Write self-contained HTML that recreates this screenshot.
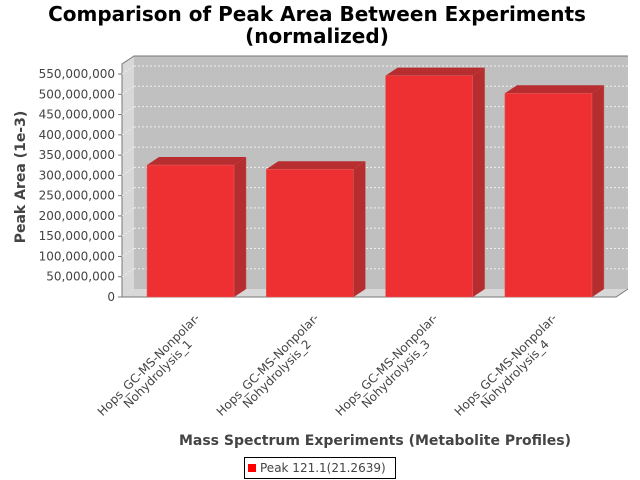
<!DOCTYPE html>
<html><head><meta charset="utf-8"><style>
body{margin:0;background:#fff;}
svg text{font-family:"DejaVu Sans","Liberation Sans",sans-serif;}
.cat{position:absolute;width:160px;text-align:center;font:12px "DejaVu Sans","Liberation Sans",sans-serif;color:#444;line-height:13px;transform-origin:right top;transform:rotate(-45deg);white-space:nowrap;}
</style></head><body>
<div style="position:relative;width:640px;height:480px;overflow:hidden">
<svg id="c" width="640" height="480" style="position:absolute;left:0;top:0">
<text x="317" y="21" text-anchor="middle" font-size="20" font-weight="bold" fill="#000">Comparison of Peak Area Between Experiments</text>
<text x="317" y="43" text-anchor="middle" font-size="20" font-weight="bold" fill="#000">(normalized)</text>
<polygon points="122,64 134,56 134,289 122,297" fill="#d8d8d8"/>
<rect x="134" y="56" width="494" height="233" fill="#c0c0c0"/>
<polygon points="122,297 134,289 628,289 616,297" fill="#d8d8d8"/>
<polyline points="122,297 122,64 134,56 628,56" fill="none" stroke="#777"/>
<polyline points="122,297 616,297 628,289" fill="none" stroke="#777"/>
<g id="grid"></g><g id="ticks"></g><g id="bars"></g>
<text transform="translate(25,177) rotate(-90)" text-anchor="middle" font-size="14" font-weight="bold" fill="#444">Peak Area (1e-3)</text>
<text x="375" y="445" text-anchor="middle" font-size="14" font-weight="bold" fill="#444">Mass Spectrum Experiments (Metabolite Profiles)</text>
<rect x="244.5" y="457.5" width="151" height="21" fill="#fff" stroke="#000"/>
<rect x="248" y="464" width="8" height="8" fill="#ff0000"/>
<text x="260" y="472" font-size="12" fill="#444">Peak 121.1(21.2639)</text>
</svg>
<div id="cats"></div>
</div>
<script>
const categories=["Hops_GC-MS-Nonpolar-\nNohydrolysis_1","Hops_GC-MS-Nonpolar-\nNohydrolysis_2","Hops_GC-MS-Nonpolar-\nNohydrolysis_3","Hops_GC-MS-Nonpolar-\nNohydrolysis_4"];
const values=[325500000,315000000,546000000,502500000];
const yTicks=[0,50000000,100000000,150000000,200000000,250000000,300000000,350000000,400000000,450000000,500000000,550000000];
const NS="http://www.w3.org/2000/svg";
const y0=297,pxPer=20.27/50000000,DX=12,DY=8;
function yS(v){return y0-v*pxPer;}
function xBand(i){return {x:147+119.3*i,w:87};}
function mk(tag,attrs,parent){const e=document.createElementNS(NS,tag);for(const k in attrs)e.setAttribute(k,attrs[k]);parent.appendChild(e);return e;}
const grid=document.getElementById('grid'),ticks=document.getElementById('ticks'),bars=document.getElementById('bars');
yTicks.forEach(v=>{
  const y=yS(v);
  if(v>0){const l=mk('line',{x1:122,y1:y,x2:134,y2:y-DY,stroke:'#eee','stroke-dasharray':'2,2'},grid);
  
  
  const g=mk('line',{x1:134,y1:y-DY,x2:628,y2:y-DY,stroke:'#eee','stroke-dasharray':'2,2'},grid);
  
  }
  const t=mk('line',{x1:118,y1:y,x2:122,y2:y,stroke:'#777'},ticks);
  
  
  const tx=mk('text',{x:115,y:y+4,'text-anchor':'end','font-size':12,fill:'#444'},ticks);
  tx.textContent=v.toLocaleString('en-US');
  
  
});
const cats=document.getElementById('cats');
values.forEach((v,i)=>{
  const b=xBand(i),yt=yS(v);
  const g=mk('g',{},bars);
  
  
  mk('polygon',{points:`${b.x+b.w},${yt} ${b.x+b.w+DX},${yt-DY} ${b.x+b.w+DX},${y0-DY} ${b.x+b.w},${y0}`,fill:'#b52d2f',stroke:'#c05050','stroke-width':0.5},g);
  mk('polygon',{points:`${b.x},${yt} ${b.x+DX},${yt-DY} ${b.x+b.w+DX},${yt-DY} ${b.x+b.w},${yt}`,fill:'#b82e30'},g);
  mk('rect',{x:b.x,y:yt,width:b.w,height:y0-yt,fill:'#ee3032',stroke:'#e06060','stroke-width':0.5},g);
  const d=document.createElement('div');
  d.className='cat';
  
  
  d.innerHTML=categories[i].split('\n').join('<br>');
  const cx=b.x+b.w/2+DX/2+4;
  d.style.left=(cx-160)+'px';d.style.top='304px';
  cats.appendChild(d);
});
</script>
</body></html>
